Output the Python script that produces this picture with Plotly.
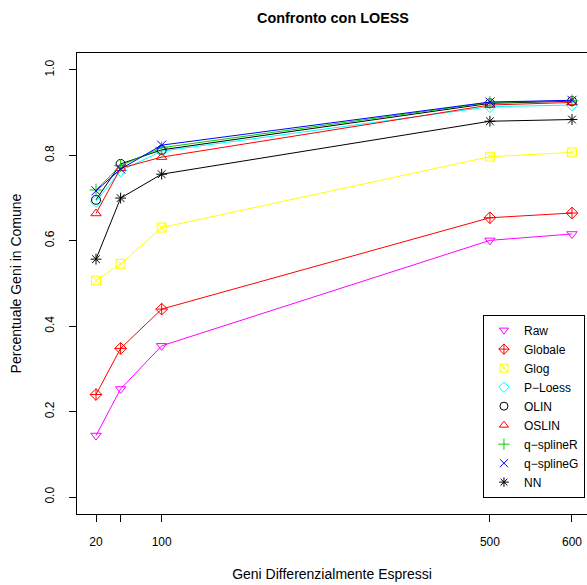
import plotly.graph_objects as go

# Number of differentially expressed genes considered
n_geni = [20, 50, 100, 500, 600]
x_tick_text = ["20", "", "100", "500", "600"]

y_ticks = [0.0, 0.2, 0.4, 0.6, 0.8, 1.0]
y_tick_text = ["0.0", "0.2", "0.4", "0.6", "0.8", "1.0"]

# Fraction of genes in common with the LOESS reference, per normalisation
raw = [0.144, 0.253, 0.354, 0.601, 0.616]
globale = [0.240, 0.348, 0.440, 0.654, 0.665]
glog = [0.507, 0.546, 0.631, 0.797, 0.807]
p_loess = [0.692, 0.764, 0.810, 0.914, 0.918]
olin = [0.696, 0.780, 0.813, 0.922, 0.927]
oslin = [0.664, 0.770, 0.796, 0.918, 0.924]
q_spline_r = [0.719, 0.776, 0.818, 0.924, 0.928]
q_spline_g = [0.717, 0.768, 0.824, 0.925, 0.929]
nn = [0.557, 0.700, 0.756, 0.880, 0.884]

series = [
    ("Raw", raw, "#FF00FF", "triangle-down-open"),
    ("Globale", globale, "#FF0000", "diamond-cross-open"),
    ("Glog", glog, "#FFFF00", "square-x-open"),
    ("P\u2212Loess", p_loess, "#00FFFF", "diamond-open"),
    ("OLIN", olin, "#000000", "circle-open"),
    ("OSLIN", oslin, "#FF0000", "triangle-up-open"),
    ("q\u2212splineR", q_spline_r, "#00CD00", "cross-thin-open"),
    ("q\u2212splineG", q_spline_g, "#0000FF", "x-thin-open"),
    ("NN", nn, "#000000", "asterisk-open"),
]

FONT = "Liberation Sans, Arial, Helvetica, sans-serif"

fig = go.Figure()

for name, vals, color, symbol in series:
    fig.add_trace(go.Scatter(
        x=n_geni, y=vals, mode="lines+markers", name=name,
        line=dict(color=color, width=1),
        marker=dict(symbol=symbol, size=9, color=color,
                    line=dict(color=color, width=1)),
        showlegend=False,
    ))

# legend entries show only the plotting symbol
for name, vals, color, symbol in series:
    fig.add_trace(go.Scatter(
        x=[None], y=[None], mode="markers", name=name,
        marker=dict(symbol=symbol, size=8, color=color,
                    line=dict(color=color, width=1)),
        showlegend=True,
    ))

fig.update_layout(
    width=587, height=585,
    margin=dict(l=77, r=0, t=53, b=71),
    paper_bgcolor="white", plot_bgcolor="white",
    font=dict(family=FONT, size=12, color="black"),
    title=dict(text="<b>Confronto con LOESS</b>", font=dict(size=14.4),
               x=0.502, xref="paper", xanchor="center",
               y=1 - 18 / 585, yref="container", yanchor="middle"),
    showlegend=True,
    legend=dict(x=0.996, xanchor="right", y=0.234, yanchor="middle",
                bordercolor="black", borderwidth=1, bgcolor="white",
                font=dict(size=12), tracegroupgap=0),
    xaxis=dict(
        range=[-3.15, 618.3], tickvals=n_geni, ticktext=x_tick_text,
        ticks="outside", ticklen=7, tickcolor="black", tickwidth=1,
        showgrid=False, zeroline=False,
        showline=True, linecolor="black", linewidth=1, mirror=True,
        ticklabelstandoff=10,
        title=dict(text="Geni Differenzialmente Espressi", standoff=20),
    ),
    yaxis=dict(
        range=[-0.0398, 1.0398], tickvals=y_ticks, ticktext=y_tick_text,
        tickangle=-90,
        ticks="outside", ticklen=7, tickcolor="black", tickwidth=1,
        showgrid=False, zeroline=False,
        showline=True, linecolor="black", linewidth=1,
        ticklabelstandoff=10,
        title=dict(text="Percentuale Geni in Comune", standoff=18),
    ),
)

fig.write_html("out.html")
